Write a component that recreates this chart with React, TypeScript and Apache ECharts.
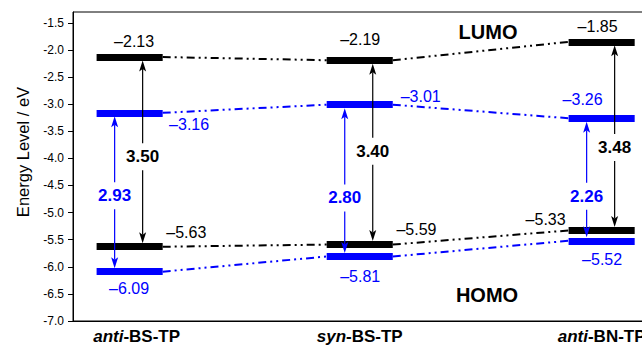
import React, { useEffect, useRef } from 'react';
import * as echarts from 'echarts';

// ---- data ----
const compounds = ['anti-BS-TP', 'syn-BS-TP', 'anti-BN-TP'];
const xPos = [1, 1.975, 3];
const lumoBlack = [-2.13, -2.19, -1.85];
const lumoBlue = [-3.16, -3.01, -3.26];
const homoBlack = [-5.63, -5.59, -5.33];
const homoBlue = [-6.09, -5.81, -5.52];
const gapBlack = [3.5, 3.4, 3.48];
const gapBlue = [2.93, 2.8, 2.26];
const gapLabelYBlack = [-3.97, -3.87, -3.8];
const gapLabelYBlue = [-4.69, -4.73, -4.7];
const yTicks = [-7.0, -6.5, -6.0, -5.5, -5.0, -4.5, -4.0, -3.5, -3.0, -2.5, -2.0, -1.5];

// ---- styling ----
const FONT = '"Liberation Sans", Arial, Helvetica, sans-serif';
const BLACK = '#000000';
const BLUE = '#0000ff';
const HALF = 0.14; // half width of level bars in axis units
const CHART_W = 740;

// label pixel offsets from bar center: [dx, dy]
const offLumoBlack = [[4.5, -15.5], [0.5, -21], [-4, -15]];
const offLumoBlue = [[59.5, 12], [61, -8], [-19, -18.6]];
const offHomoBlack = [[56.7, -14], [56.7, -15], [-56, -11]];
const offHomoBlue = [[-0.5, 17], [0.5, 20], [0.5, 19]];

const fmt = (v: number) => '\u2013' + Math.abs(v).toFixed(2);

function connectors(vals: number[]) {
  const out: any[] = [];
  for (let i = 0; i < vals.length - 1; i++) {
    out.push({ coords: [[xPos[i] + HALF, vals[i]], [xPos[i + 1] - HALF, vals[i + 1]]] });
  }
  return out;
}
function bars(vals: number[]) {
  return vals.map((v, i) => ({ coords: [[xPos[i] - HALF, v], [xPos[i] + HALF, v]] }));
}

export default function App() {
  const ref = useRef<HTMLDivElement>(null);
  useEffect(() => {
    if (!ref.current) return;
    const chart = echarts.init(ref.current, undefined, { renderer: 'svg' });

    const labelItems: any[] = [];
    const addLabels = (vals: number[], offs: number[][], color: string) => {
      vals.forEach((v, i) => labelItems.push({ x: xPos[i], v, dx: offs[i][0], dy: offs[i][1], color }));
    };
    addLabels(lumoBlack, offLumoBlack, BLACK);
    addLabels(lumoBlue, offLumoBlue, BLUE);
    addLabels(homoBlack, offHomoBlack, BLACK);
    addLabels(homoBlue, offHomoBlue, BLUE);

    const arrows: any[] = [];
    compounds.forEach((_, i) => {
      arrows.push({ x: xPos[i], top: lumoBlack[i], bottom: homoBlack[i], ly: gapLabelYBlack[i], text: gapBlack[i].toFixed(2), color: BLACK, dx: 13 });
      arrows.push({ x: xPos[i], top: lumoBlue[i], bottom: homoBlue[i], ly: gapLabelYBlue[i], text: gapBlue[i].toFixed(2), color: BLUE, dx: -15 });
    });

    const dash = [8, 4, 2, 4, 2, 4];
    const lineSeries = (name: string, data: any[], color: string, width: number, type: any, z: number) => ({
      type: 'lines',
      name,
      coordinateSystem: 'cartesian2d',
      polyline: false,
      silent: true,
      z,
      data,
      lineStyle: { color, width, type, opacity: 1, curveness: 0, cap: 'butt' },
    });

    const option: any = {
      animation: false,
      backgroundColor: '#ffffff',
      grid: { left: 73, top: 12, bottom: 27, right: 18, show: true, borderColor: '#000', borderWidth: 1, backgroundColor: 'transparent' },
      xAxis: {
        type: 'value',
        min: 0.76,
        max: 3.51,
        splitLine: { show: false },
        axisTick: { show: false },
        axisLine: { show: true, onZero: false, lineStyle: { color: '#000', width: 1 } },
        axisLabel: {
          customValues: xPos,
          margin: 7,
          formatter: (v: number) => {
            const i = xPos.findIndex((p) => Math.abs(p - v) < 1e-6);
            if (i < 0) return '';
            const name = compounds[i];
            const k = name.indexOf('-');
            const pad = i === 0 ? '{pad|}' : '';
            return pad + '{it|' + name.slice(0, k) + '}{b|' + name.slice(k) + '}';
          },
          rich: {
            it: { fontStyle: 'italic', fontWeight: 'bold', fontSize: 17, fontFamily: FONT, color: '#000' },
            b: { fontWeight: 'bold', fontSize: 17, fontFamily: FONT, color: '#000' },
            pad: { width: 14 },
          },
        },
      },
      yAxis: {
        type: 'value',
        min: -7,
        max: -1.3,
        splitLine: { show: false },
        axisLine: { show: true, onZero: false, lineStyle: { color: '#000', width: 1 } },
        axisTick: { show: true, inside: false, length: 5, customValues: yTicks, lineStyle: { color: '#000' } },
        axisLabel: {
          customValues: yTicks,
          formatter: (v: number) => v.toFixed(1),
          fontSize: 12,
          fontFamily: FONT,
          color: '#000',
          margin: 9,
        },
      },
      graphic: [
        {
          type: 'text', x: 23, y: 152, rotation: Math.PI / 2,
          style: { text: 'Energy Level / eV', fontSize: 16.5, fontFamily: FONT, fill: '#000', align: 'center', verticalAlign: 'middle' },
        },
        {
          type: 'text', x: 488, y: 32,
          style: { text: 'LUMO', fontSize: 20, fontWeight: 'bold', fontFamily: FONT, fill: '#000', align: 'center', verticalAlign: 'middle' },
        },
        {
          type: 'text', x: 487, y: 295,
          style: { text: 'HOMO', fontSize: 20, fontWeight: 'bold', fontFamily: FONT, fill: '#000', align: 'center', verticalAlign: 'middle' },
        },
      ],
      series: [
        lineSeries('LUMO black link', connectors(lumoBlack), BLACK, 2, dash, 2),
        lineSeries('LUMO blue link', connectors(lumoBlue), BLUE, 2, dash, 2),
        lineSeries('HOMO black link', connectors(homoBlack), BLACK, 2, dash, 2),
        lineSeries('HOMO blue link', connectors(homoBlue), BLUE, 2, dash, 2),
        lineSeries('LUMO black', bars(lumoBlack), BLACK, 7, 'solid', 3),
        lineSeries('LUMO blue', bars(lumoBlue), BLUE, 7, 'solid', 3),
        lineSeries('HOMO black', bars(homoBlack), BLACK, 7, 'solid', 3),
        lineSeries('HOMO blue', bars(homoBlue), BLUE, 7, 'solid', 3),
        {
          type: 'custom',
          name: 'gaps',
          coordinateSystem: 'cartesian2d',
          clip: false,
          silent: true,
          z: 4,
          encode: { x: 0, y: [1, 2] },
          data: arrows.map((a) => [a.x, a.top, a.bottom]),
          renderItem: (params: any, api: any) => {
            const a = arrows[params.dataIndex];
            const pt = api.coord([a.x, a.top]);
            const pb = api.coord([a.x, a.bottom]);
            const pl = api.coord([a.x, a.ly]);
            const x = pt[0] + a.dx;
            const t = pt[1] + 3.5;
            const b = pb[1] - 3.5;
            const hh = 11, hw = 3.5, notch = 8.5;
            return {
              type: 'group',
              children: [
                { type: 'line', shape: { x1: x, y1: t + notch, x2: x, y2: b - notch }, style: { stroke: a.color, lineWidth: 1.2 } },
                { type: 'polygon', shape: { points: [[x, t], [x - hw, t + hh], [x, t + notch], [x + hw, t + hh]] }, style: { fill: a.color } },
                { type: 'polygon', shape: { points: [[x, b], [x - hw, b - hh], [x, b - notch], [x + hw, b - hh]] }, style: { fill: a.color } },
                {
                  type: 'text', x, y: pl[1],
                  style: {
                    text: a.text, fill: a.color, fontSize: 17, fontWeight: 'bold', fontFamily: FONT,
                    align: 'center', verticalAlign: 'middle', backgroundColor: '#fff', padding: [5, 2],
                  },
                },
              ],
            };
          },
        },
        {
          type: 'custom',
          name: 'values',
          coordinateSystem: 'cartesian2d',
          clip: false,
          silent: true,
          z: 5,
          encode: { x: 0, y: 1 },
          data: labelItems.map((l) => [l.x, l.v]),
          renderItem: (params: any, api: any) => {
            const l = labelItems[params.dataIndex];
            const p = api.coord([l.x, l.v]);
            return {
              type: 'text', x: p[0] + l.dx, y: p[1] + l.dy,
              style: { text: fmt(l.v), fill: l.color, fontSize: 16, fontFamily: FONT, align: 'center', verticalAlign: 'middle' },
            };
          },
        },
      ],
    };
    chart.setOption(option);
    return () => chart.dispose();
  }, []);
  return (
    <div style={{ position: 'absolute', left: 0, top: 0, width: 642, height: 348, overflow: 'hidden' }}>
      <div ref={ref} style={{ width: CHART_W, height: 348 }} />
    </div>
  );
}
